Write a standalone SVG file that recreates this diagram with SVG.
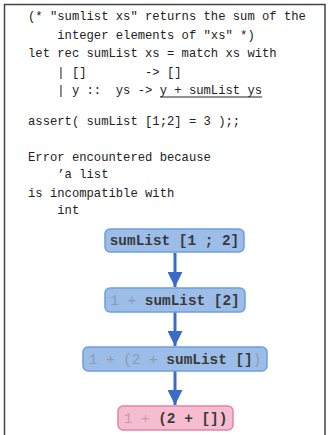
<svg xmlns="http://www.w3.org/2000/svg" width="328" height="435" viewBox="0 0 328 435">
<defs>
<style>
.code{font-family:"Liberation Mono","DejaVu Sans Mono",monospace;font-size:12.2px;fill:#222;white-space:pre}
.nt{font-family:"Liberation Mono","DejaVu Sans Mono",monospace;font-size:14.4px;font-weight:bold;fill:#3a3a3a;white-space:pre}
.dim{fill:#8a9bb5;font-weight:normal}
.blue{fill:#9bbde8;stroke:#6f9fdc;stroke-width:1.5}
.pink{fill:#f6bdd0;stroke:#e683a8;stroke-width:1.5}
.edge{stroke:#3a6cc6;stroke-width:3;fill:none}
</style>
<marker id="ah" viewBox="0 0 10 10" refX="10" refY="5" markerWidth="5" markerHeight="5" markerUnits="strokeWidth" orient="auto">
<path d="M0,0 L10,5 L0,10 z" fill="#3a6cc6"/>
</marker>
</defs>
<rect width="328" height="435" fill="#fff"/>
<path d="M4.5,435 V4.5 H325 V435" fill="none" stroke="#444" stroke-width="1.5"/>
<g id="code">
<text class="code" x="28" y="20">(* "sumlist xs" returns the sum of the</text>
<text class="code" x="28" y="39">    integer elements of "xs" *)</text>
<text class="code" x="28" y="57">let rec sumList xs = match xs with</text>
<text class="code" x="28" y="76">    | []        -&gt; []</text>
<text class="code" x="28" y="94">    | y ::  ys -&gt; y + sumList ys</text>
<line x1="160" y1="97" x2="262" y2="97" stroke="#222" stroke-width="1"/>
<text class="code" x="28" y="125">assert( sumList [1;2] = 3 );;</text>
<text class="code" x="28" y="161">Error encountered because</text>
<text class="code" x="28" y="178">    ’a list</text>
<text class="code" x="28" y="197">is incompatible with</text>
<text class="code" x="28" y="214">    int</text>
</g>
<g id="edges">
<line class="edge" x1="175" y1="253" x2="175" y2="287" marker-end="url(#ah)"/>
<line class="edge" x1="175" y1="312" x2="175" y2="346" marker-end="url(#ah)"/>
<line class="edge" x1="175" y1="371" x2="175" y2="405" marker-end="url(#ah)"/>
</g>
<g id="n1">
<rect class="blue" x="105" y="229" width="139" height="23" rx="5"/>
<text class="nt" x="174.5" y="245" text-anchor="middle">sumList [1 ; 2]</text>
</g>
<g id="n2">
<rect class="blue" x="105" y="288" width="140" height="24" rx="5"/>
<text class="nt" x="175" y="305" text-anchor="middle"><tspan class="dim">1 + </tspan>sumList [2]</text>
</g>
<g id="n3">
<rect class="blue" x="83" y="347" width="184" height="24" rx="5"/>
<text class="nt" x="175" y="364" text-anchor="middle"><tspan class="dim">1 + (2 + </tspan>sumList []<tspan class="dim">)</tspan></text>
</g>
<g id="n4">
<rect class="pink" x="118" y="406" width="115" height="24" rx="5"/>
<text class="nt" x="175.5" y="423" text-anchor="middle"><tspan class="dim" style="fill:#c99aae">1 + </tspan>(2 + [])</text>
</g>
</svg>
